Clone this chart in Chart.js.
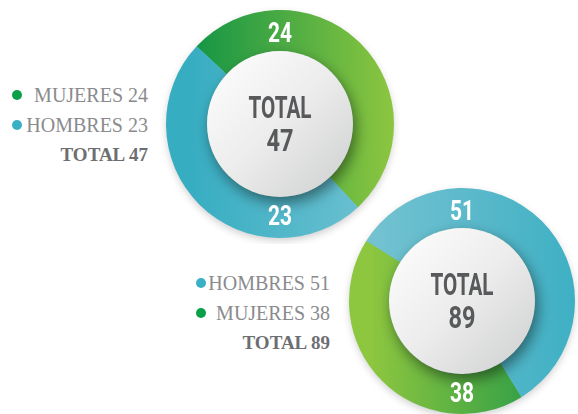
<!DOCTYPE html>
<html>
<head>
<meta charset="utf-8">
<script src="https://cdn.jsdelivr.net/npm/chart.js@4"></script>
<style>
  html, body { margin: 0; padding: 0; background: #fff; width: 578px; height: 414px; overflow: hidden; position: relative; }
  .ring { position: absolute; }
  .legend { position: absolute; font-family: "Liberation Serif", serif; font-size: 20px; color: #8a8b8d; }
  .legend .row { position: relative; height: 30px; line-height: 30px; text-align: right; white-space: nowrap; }
  .legend .dot { position: absolute; left: 0; top: 10px; width: 10px; height: 10px; border-radius: 50%; }
  .legend .total { font-weight: bold; color: #6d6e71; font-size: 19px; }
</style>
</head>
<body>
<div class="legend" id="legend1" style="left:12px; top:80px; width:136px;"></div>
<div class="legend" id="legend2" style="left:196px; top:268px; width:134px;"></div>
<canvas class="ring" id="ring1" width="240" height="240" style="left:160px; top:4px;"></canvas>
<canvas class="ring" id="ring2" width="240" height="240" style="left:342px; top:181px;"></canvas>

<script>
// Chart 1
const categories1 = ['MUJERES', 'HOMBRES'];
const values1 = [24, 23];
// Chart 2
const categories2 = ['HOMBRES', 'MUJERES'];
const values2 = [51, 38];
const totalLabel = 'TOTAL';

const dotColors = { MUJERES: '#0aa04a', HOMBRES: '#3ab0c5' };

// gradient stops per category, left -> right
const gradients1 = {
    MUJERES: ['#129446', '#8dc63f'],
    HOMBRES: ['#37adc2', '#72c3d2']
};
const gradients2 = {
    HOMBRES: ['#74c2d1', '#3fb0c4'],
    MUJERES: ['#8dc63f', '#1a9548']
};

function buildLegend(id, categories, values) {
    const el = document.getElementById(id);
    const total = values.reduce((a, b) => a + b, 0);
    el.innerHTML = categories.map((c, i) => `
        <div class="row"><span class="dot" style="background:${dotColors[c]}"></span>${c} ${values[i]}</div>
    `).join('') + `<div class="row total">${totalLabel} ${total}</div>`;
}

function drawCondensed(ctx, text, x, baseline, size, width) {
    ctx.save();
    ctx.font = `bold ${size}px Roboto`;
    const w = ctx.measureText(text).width;
    ctx.translate(x, baseline);
    ctx.scale(width / w, 1);
    ctx.textAlign = 'center';
    ctx.textBaseline = 'alphabetic';
    ctx.fillText(text, 0, 0);
    ctx.restore();
}

const ringDecor = {
    id: 'ringDecor',
    beforeDatasetsDraw(chart) {
        const arc = chart.getDatasetMeta(0).data[0];
        if (!arc) return;
        const ctx = chart.ctx;
        ctx.save();
        ctx.shadowColor = 'rgba(0,0,0,0.22)';
        ctx.shadowBlur = 8;
        ctx.shadowOffsetY = 3;
        ctx.beginPath();
        ctx.arc(arc.x, arc.y, arc.outerRadius - 1, 0, Math.PI * 2);
        ctx.fillStyle = '#7fbf9a';
        ctx.fill();
        ctx.restore();
    },
    afterDatasetsDraw(chart) {
        const meta = chart.getDatasetMeta(0);
        const arc = meta.data[0];
        if (!arc) return;
        const ctx = chart.ctx;
        const { x, y, innerRadius, outerRadius } = arc;
        const r = innerRadius;

        // center disc
        ctx.save();
        ctx.shadowColor = 'rgba(0,0,0,0.45)';
        ctx.shadowBlur = 14;
        ctx.shadowOffsetX = 3;
        ctx.shadowOffsetY = 6;
        const g = ctx.createLinearGradient(x - r, y - r, x + r, y + r);
        g.addColorStop(0, '#ffffff');
        g.addColorStop(0.5, '#ececec');
        g.addColorStop(1, '#cdcecf');
        ctx.beginPath();
        ctx.arc(x, y, r, 0, Math.PI * 2);
        ctx.fillStyle = g;
        ctx.fill();
        ctx.restore();

        // center text
        const data = chart.data.datasets[0].data;
        const total = data.reduce((a, b) => a + b, 0);
        ctx.fillStyle = '#58595b';
        drawCondensed(ctx, totalLabel, x, y - 6.5, 32, 63);
        drawCondensed(ctx, String(total), x, y + 26.5, 32, 27);

        // ring labels: first value at top, second at bottom
        const mid = (innerRadius + outerRadius) / 2 - 2;
        ctx.fillStyle = '#ffffff';
        data.forEach((v, i) => {
            const ly = i === 0 ? y - mid : y + mid;
            drawCondensed(ctx, String(v), x, ly + 9.5, 27, 12 * String(v).length);
        });
    }
};

function makeRing(id, categories, values, grads, rotation, padding) {
    const canvas = document.getElementById(id);
    new Chart(canvas.getContext('2d'), {
        type: 'doughnut',
        data: {
            labels: categories,
            datasets: [{
                data: values,
                borderWidth: 0,
                backgroundColor: (c) => {
                    const area = c.chart.chartArea;
                    const stops = grads[categories[c.dataIndex]];
                    if (!area) return stops[0];
                    const cx = (area.left + area.right) / 2;
                    const R = (area.right - area.left) / 2;
                    const g = c.chart.ctx.createLinearGradient(cx - R * 0.8, 0, cx + R, 0);
                    g.addColorStop(0, stops[0]);
                    g.addColorStop(1, stops[1]);
                    return g;
                }
            }]
        },
        options: {
            responsive: false,
            animation: false,
            cutout: 73,
            rotation: rotation,
            layout: { padding: padding },
            plugins: {
                legend: { display: false },
                tooltip: { enabled: false }
            }
        },
        plugins: [ringDecor]
    });
}

document.addEventListener('DOMContentLoaded', () => {
    buildLegend('legend1', categories1, values1);
    buildLegend('legend2', categories2, values2);
    makeRing('ring1', categories1, values1, gradients1, -47, 6);
    makeRing('ring2', categories2, values2, gradients2, -58, 7);
});
</script>
</body>
</html>
